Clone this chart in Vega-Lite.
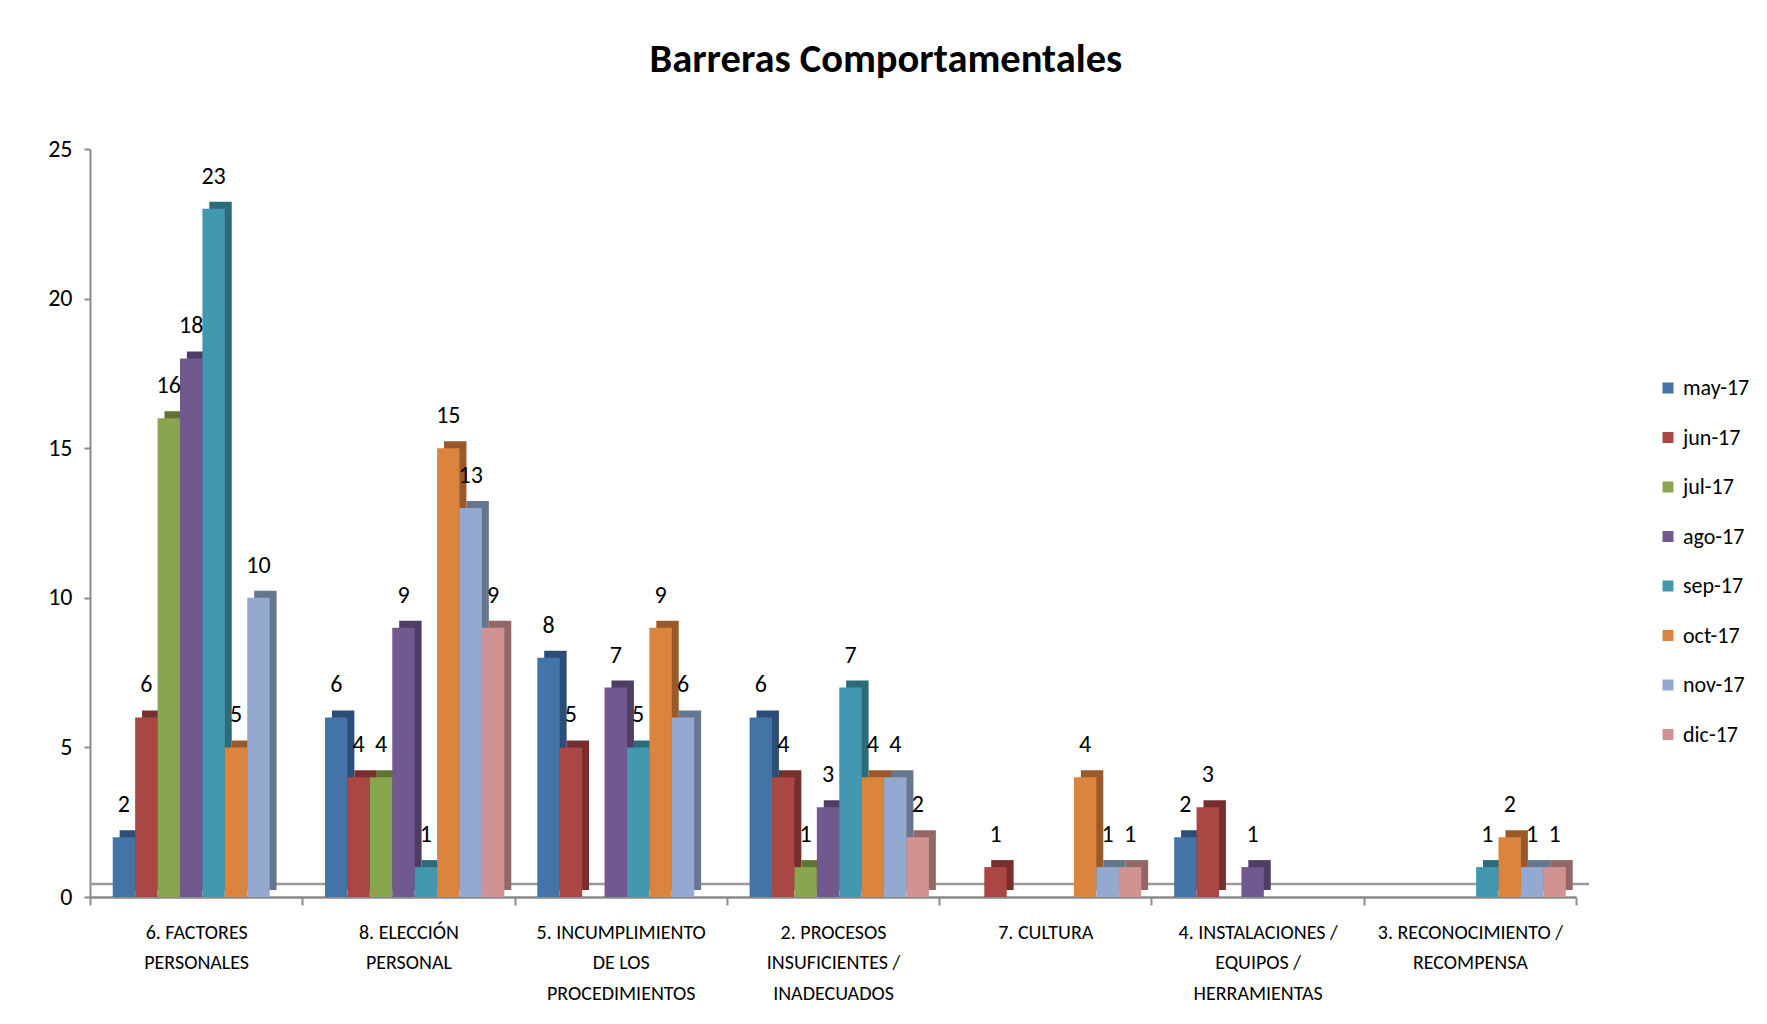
{
  "$schema": "https://vega.github.io/schema/vega-lite/v6.json",
  "width": 1486,
  "height": 748,
  "padding": {"left": 47, "top": 39, "right": 5, "bottom": 5},
  "autosize": {"type": "pad"},
  "background": "white",
  "config": {"view": {"stroke": null}, "font": "Carlito, 'Liberation Sans Narrow', 'DejaVu Sans Condensed', sans-serif"},
  "title": {"text": "Barreras Comportamentales", "fontSize": 40.5, "fontWeight": "bold", "color": "#000000", "anchor": "middle", "frame": "bounds", "offset": 57, "dx": -13},
  "datasets": {
    "bars": [
      {"cat": "6. FACTORES|PERSONALES", "mes": "may-17", "valor": 2},
      {"cat": "6. FACTORES|PERSONALES", "mes": "jun-17", "valor": 6},
      {"cat": "6. FACTORES|PERSONALES", "mes": "jul-17", "valor": 16},
      {"cat": "6. FACTORES|PERSONALES", "mes": "ago-17", "valor": 18},
      {"cat": "6. FACTORES|PERSONALES", "mes": "sep-17", "valor": 23},
      {"cat": "6. FACTORES|PERSONALES", "mes": "oct-17", "valor": 5},
      {"cat": "6. FACTORES|PERSONALES", "mes": "nov-17", "valor": 10},
      {"cat": "8. ELECCIÓN|PERSONAL", "mes": "may-17", "valor": 6},
      {"cat": "8. ELECCIÓN|PERSONAL", "mes": "jun-17", "valor": 4},
      {"cat": "8. ELECCIÓN|PERSONAL", "mes": "jul-17", "valor": 4},
      {"cat": "8. ELECCIÓN|PERSONAL", "mes": "ago-17", "valor": 9},
      {"cat": "8. ELECCIÓN|PERSONAL", "mes": "sep-17", "valor": 1},
      {"cat": "8. ELECCIÓN|PERSONAL", "mes": "oct-17", "valor": 15},
      {"cat": "8. ELECCIÓN|PERSONAL", "mes": "nov-17", "valor": 13},
      {"cat": "8. ELECCIÓN|PERSONAL", "mes": "dic-17", "valor": 9},
      {"cat": "5. INCUMPLIMIENTO|DE LOS|PROCEDIMIENTOS", "mes": "may-17", "valor": 8},
      {"cat": "5. INCUMPLIMIENTO|DE LOS|PROCEDIMIENTOS", "mes": "jun-17", "valor": 5},
      {"cat": "5. INCUMPLIMIENTO|DE LOS|PROCEDIMIENTOS", "mes": "ago-17", "valor": 7},
      {"cat": "5. INCUMPLIMIENTO|DE LOS|PROCEDIMIENTOS", "mes": "sep-17", "valor": 5},
      {"cat": "5. INCUMPLIMIENTO|DE LOS|PROCEDIMIENTOS", "mes": "oct-17", "valor": 9},
      {"cat": "5. INCUMPLIMIENTO|DE LOS|PROCEDIMIENTOS", "mes": "nov-17", "valor": 6},
      {"cat": "2. PROCESOS|INSUFICIENTES /|INADECUADOS", "mes": "may-17", "valor": 6},
      {"cat": "2. PROCESOS|INSUFICIENTES /|INADECUADOS", "mes": "jun-17", "valor": 4},
      {"cat": "2. PROCESOS|INSUFICIENTES /|INADECUADOS", "mes": "jul-17", "valor": 1},
      {"cat": "2. PROCESOS|INSUFICIENTES /|INADECUADOS", "mes": "ago-17", "valor": 3},
      {"cat": "2. PROCESOS|INSUFICIENTES /|INADECUADOS", "mes": "sep-17", "valor": 7},
      {"cat": "2. PROCESOS|INSUFICIENTES /|INADECUADOS", "mes": "oct-17", "valor": 4},
      {"cat": "2. PROCESOS|INSUFICIENTES /|INADECUADOS", "mes": "nov-17", "valor": 4},
      {"cat": "2. PROCESOS|INSUFICIENTES /|INADECUADOS", "mes": "dic-17", "valor": 2},
      {"cat": "7. CULTURA", "mes": "jun-17", "valor": 1},
      {"cat": "7. CULTURA", "mes": "oct-17", "valor": 4},
      {"cat": "7. CULTURA", "mes": "nov-17", "valor": 1},
      {"cat": "7. CULTURA", "mes": "dic-17", "valor": 1},
      {"cat": "4. INSTALACIONES /|EQUIPOS /|HERRAMIENTAS", "mes": "may-17", "valor": 2},
      {"cat": "4. INSTALACIONES /|EQUIPOS /|HERRAMIENTAS", "mes": "jun-17", "valor": 3},
      {"cat": "4. INSTALACIONES /|EQUIPOS /|HERRAMIENTAS", "mes": "ago-17", "valor": 1},
      {"cat": "3. RECONOCIMIENTO /|RECOMPENSA", "mes": "sep-17", "valor": 1},
      {"cat": "3. RECONOCIMIENTO /|RECOMPENSA", "mes": "oct-17", "valor": 2},
      {"cat": "3. RECONOCIMIENTO /|RECOMPENSA", "mes": "nov-17", "valor": 1},
      {"cat": "3. RECONOCIMIENTO /|RECOMPENSA", "mes": "dic-17", "valor": 1}
    ],
    "floor": [{"v": 0}]
  },
  "data": {"name": "bars"},
  "resolve": {"scale": {"color": "independent", "xOffset": "independent"}},
  "layer": [
    {
      "data": {"name": "floor"},
      "mark": {"type": "rule", "color": "#9a9a9a", "strokeWidth": 2.5, "xOffset": 13, "yOffset": -13},
      "encoding": {"y": {"field": "v", "type": "quantitative", "scale": {"domain": [0, 25], "nice": false}}}
    },
    {
      "mark": {"type": "bar", "yOffset": -7},
      "encoding": {
        "x": {"field": "cat", "type": "nominal", "sort": null, "scale": {"paddingInner": 0, "paddingOuter": 0}},
        "xOffset": {"field": "mes", "type": "nominal", "scale": {"domain": ["may-17", "jun-17", "jul-17", "ago-17", "sep-17", "oct-17", "nov-17", "dic-17"], "paddingInner": 0, "paddingOuter": 0.735, "align": 0.9}},
        "y": {"field": "valor", "type": "quantitative"},
        "color": {"field": "mes", "type": "nominal", "scale": {"domain": ["may-17", "jun-17", "jul-17", "ago-17", "sep-17", "oct-17", "nov-17", "dic-17"], "range": ["#2C4D75", "#772F2E", "#5F7336", "#4F3D64", "#2D6A7A", "#99592A", "#66768F", "#926766"]}, "legend": null}
      }
    },
    {
      "encoding": {
        "x": {"field": "cat", "type": "nominal", "sort": null, "scale": {"paddingInner": 0, "paddingOuter": 0},
          "axis": {"title": null, "labelExpr": "isValid(datum.value) ? split(datum.value, '|') : ''", "labelAngle": 0, "labelAlign": "center", "labelFlush": false, "labelLimit": 0, "labelFontSize": 20, "labelColor": "#000000", "labelLineHeight": 30.5, "labelPadding": 17, "labelBaseline": "top", "tickBand": "extent", "tickSize": 8, "tickColor": "#8a8a8a", "tickWidth": 2, "domainColor": "#8a8a8a", "domainWidth": 2.5}},
        "xOffset": {"field": "mes", "type": "nominal", "scale": {"domain": ["may-17", "jun-17", "jul-17", "ago-17", "sep-17", "oct-17", "nov-17", "dic-17"], "paddingInner": 0, "paddingOuter": 0.735, "align": 0.69}},
        "y": {"field": "valor", "type": "quantitative", "scale": {"domain": [0, 25], "nice": false},
          "axis": {"title": null, "values": [0, 5, 10, 15, 20, 25], "grid": false, "labelFontSize": 24, "labelColor": "#000000", "tickSize": 6, "tickColor": "#8a8a8a", "tickWidth": 2, "domainColor": "#8a8a8a", "domainWidth": 2, "labelPadding": 12}}
      },
      "layer": [
        {
          "mark": {"type": "bar"},
          "encoding": {
            "color": {"field": "mes", "type": "nominal", "scale": {"domain": ["may-17", "jun-17", "jul-17", "ago-17", "sep-17", "oct-17", "nov-17", "dic-17"], "range": ["#4473A8", "#AA4643", "#89A54E", "#71588F", "#4198AF", "#DB843D", "#93A9CF", "#D19392"]},
              "legend": {"title": null, "orient": "none", "legendX": 1567, "legendY": 228, "padding": 0, "symbolType": "square", "symbolSize": 121, "symbolStrokeWidth": 0, "labelFontSize": 22, "labelColor": "#000000", "labelOffset": 4, "rowPadding": 27.5}}
          }
        },
        {
          "mark": {"type": "text", "dy": -25, "baseline": "alphabetic", "fontSize": 24, "color": "#000000"},
          "encoding": {
            "text": {"field": "valor", "type": "quantitative"}
          }
        }
      ]
    }
  ]
}
